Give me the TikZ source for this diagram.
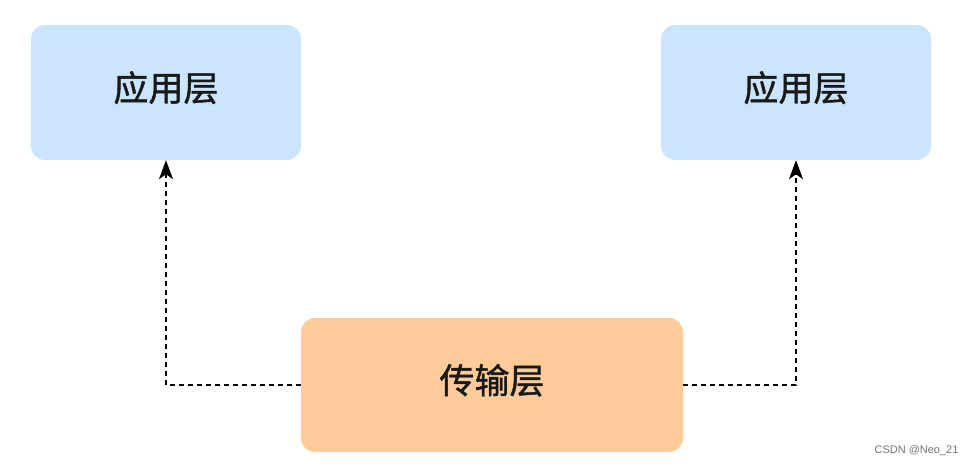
\documentclass[tikz,border=0pt]{standalone}
\usepackage{fontspec}
\newfontfamily\cjk[FakeBold=1.2]{Noto Sans CJK SC}
\newfontfamily\wm{Liberation Sans}
\usetikzlibrary{arrows.meta}
\definecolor{appblue}{HTML}{CCE5FF}
\definecolor{transorange}{HTML}{FFCC99}
\tikzset{
  layerbox/.style={rounded corners=14pt, inner sep=0pt, draw=none, text=black!90, text height=31pt, text depth=14pt, font=\cjk\fontsize{35}{40}\selectfont},
  flowline/.style={dashed, dash pattern=on 5pt off 4pt, line width=1.6pt, -{Stealth[length=19pt,width=14pt,inset=5pt]}},
}
\begin{document}
\begin{tikzpicture}[x=1pt,y=-1pt]
\useasboundingbox (0,0) rectangle (976,466);
\node[layerbox, fill=appblue, minimum width=270pt, minimum height=135pt] (appL) at (166,92.5) {应用层};
\node[layerbox, fill=appblue, minimum width=270pt, minimum height=135pt] (appR) at (796,92.5) {应用层};
\node[layerbox, fill=transorange, minimum width=382pt, minimum height=134pt] (trans) at (492,385) {传输层};
\draw[flowline] (trans.west) -| (appL.south);
\draw[flowline] (trans.east) -| (appR.south);
\node[font=\wm\fontsize{11}{13}\selectfont, text=black!55, anchor=east] (wmark) at (962,451) {CSDN @Neo\_21};
\end{tikzpicture}
\end{document}
